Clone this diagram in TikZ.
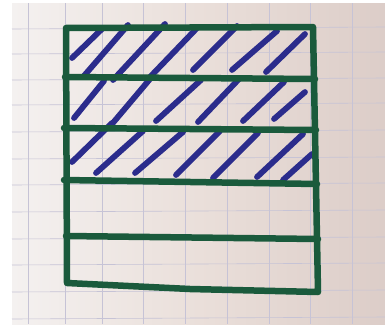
\documentclass[tikz,border=0pt]{standalone}
\definecolor{penGreen}{HTML}{1A5A3C}
\definecolor{penBlue}{HTML}{2B2C8C}
\definecolor{paperL}{HTML}{F4F1F0}
\definecolor{paperM}{HTML}{EADFDA}
\definecolor{paperR}{HTML}{DCCDC8}
\definecolor{gridC}{HTML}{C6C3D6}
\tikzset{
  frame/.style={draw=penGreen, line width=6.5pt, line cap=round, line join=round},
  hatch/.style={draw=penBlue, line width=5.8pt, line cap=round},
  gridline/.style={draw=gridC, line width=0.6pt}
}
\begin{document}
\begin{tikzpicture}[x=1pt,y=-1pt]
\useasboundingbox (0,0) rectangle (385,324);
\fill[white] (0,0) rectangle (385,324);
\shade[left color=paperL, right color=paperR, middle color=paperM] (12,3) rectangle (385,324);
% grid
\foreach \gx in {28,65,102,143,185,227,269,310,352}
  \draw[gridline] (\gx,3) -- (\gx,324);
\foreach \gy in {27,52,78,103,130,157,183,210,237,263,290,317}
  \draw[gridline] (12,\gy+2) -- (385,\gy);
% hatching strip 1
\draw[hatch] (72,58) -- (103,28);
\draw[hatch] (83,77) -- (128,25);
\draw[hatch] (113,80) -- (165,24);
\draw[hatch] (150,77) -- (198,27);
\draw[hatch] (193,70) -- (237,26);
\draw[hatch] (232,70) -- (277,31);
\draw[hatch] (266,72) -- (305,34);
% hatching strip 2
\draw[hatch] (74,118) -- (104,81);
\draw[hatch] (112,124) -- (150,79);
\draw[hatch] (156,121) -- (201,80);
\draw[hatch] (198,122) -- (239,79);
\draw[hatch] (243,121) -- (284,82);
\draw[hatch] (274,119) -- (305,92);
% hatching strip 3
\draw[hatch] (72,162) -- (112,123);
\draw[hatch] (96,173) -- (143,131);
\draw[hatch] (135,173) -- (183,132);
\draw[hatch] (176,175) -- (220,131);
\draw[hatch] (213,178) -- (258,133);
\draw[hatch] (257,177) -- (303,134);
\draw[hatch] (283,180) -- (312,154);
% frame
\draw[frame] (66,28) -- (313,27) -- (318,292) -- (190,289) -- (67,283) -- cycle;
\draw[frame] (65,77) -- (315,79);
\draw[frame] (64,128) -- (316,130);
\draw[frame] (64,180) -- (317,184);
\draw[frame] (66,236) -- (318,239);
\end{tikzpicture}
\end{document}
